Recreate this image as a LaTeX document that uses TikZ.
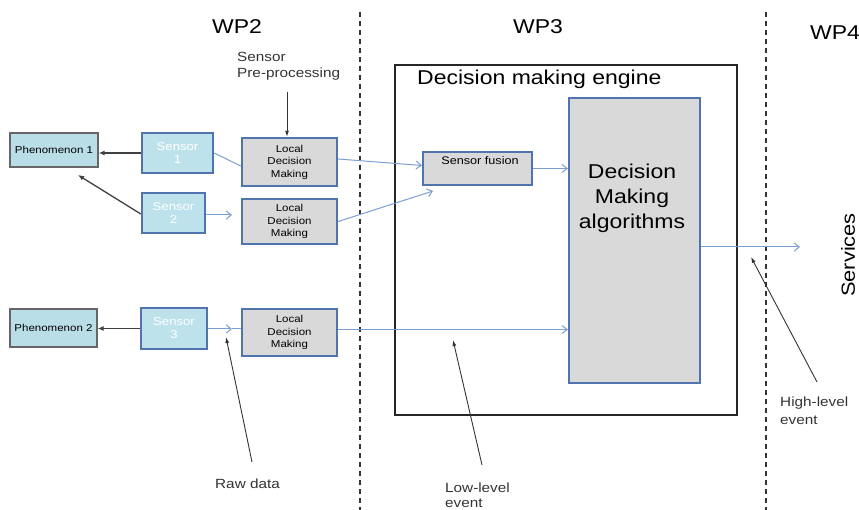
\documentclass[tikz,border=0pt]{standalone}
\usepackage{fontspec}
\setmainfont{Liberation Sans}[FakeStretch=1.15]
\usetikzlibrary{arrows.meta,calc}
\definecolor{bbord}{HTML}{4F74AE}
\definecolor{bline}{HTML}{7C9FD3}
\definecolor{cyanf}{HTML}{B9DEE8}
\definecolor{sensf}{HTML}{BEE2EC}
\definecolor{grayf}{HTML}{D9D9D9}
\definecolor{txt}{HTML}{333333}
\tikzset{
  phen/.style={draw=black!60, line width=1.3pt, fill=cyanf, inner sep=0pt, align=center, font=\fontsize{10}{12}\selectfont},
  sens/.style={draw=bbord, line width=2.4pt, fill=sensf, inner sep=1pt, align=center, text=white, font=\fontsize{11.4}{13}\selectfont},
  ldm/.style={draw=bbord, line width=2.4pt, fill=grayf, inner sep=1pt, align=center, font=\fontsize{10}{12.5}\selectfont},
  blarrow/.style={draw=bline, line width=1pt, -{Straight Barb[length=5pt,width=8pt]}},
  blline/.style={draw=bline, line width=1pt},
  blkarrow/.style={draw=black!75, line width=1.3pt, -{Latex[length=6pt,width=5pt]}},
  annot/.style={draw=black!80, line width=0.9pt, -{Latex[length=6pt,width=4pt]}},
  lbl/.style={text=txt, align=left, font=\fontsize{13.3}{15.5}\selectfont, inner sep=0pt},
  wp/.style={font=\fontsize{20}{22}\selectfont, inner sep=0pt},
  divider/.style={line width=1.8pt, black!80, dash pattern=on 5pt off 4pt},
}
\begin{document}
\begin{tikzpicture}[x=1pt,y=-1pt]
\useasboundingbox (0,0) rectangle (859,510);
% WP labels
\node[wp] (wp2) at (237,27) {WP2};
\node[wp] (wp3) at (538,27) {WP3};
\node[wp] (wp4) at (835,33) {WP4};
% dividers
\coordinate (d1t) at (360,12); \coordinate (d1b) at (360,510);
\coordinate (d2t) at (766,12); \coordinate (d2b) at (766,510);
\draw[divider] (d1t) -- (d1b);
\draw[divider] (d2t) -- (d2b);
% engine box
\node[draw=black!85, line width=1.4pt, minimum width=342pt, minimum height=350pt, inner sep=0pt] (dme) at (566,240) {};
\node[font=\fontsize{20}{22}\selectfont, inner sep=0pt, anchor=base west] (dmetitle) at (417,85) {Decision making engine};
\node[draw=bbord, line width=2.2pt, fill=grayf, minimum width=131pt, minimum height=285pt, inner sep=0pt] (dma) at (634.5,240.5) {};
\node[align=center, font=\fontsize{20}{25}\selectfont, inner sep=0pt] (dmatext) at (632,198) {Decision\\ Making\\algorithms};
\node[draw=bbord, line width=2.2pt, fill=grayf, minimum width=109pt, minimum height=33pt, inner sep=0pt] (sf) at (477.5,168.5) {};
\node[font=\fontsize{11}{12}\selectfont, inner sep=0pt] (sftext) at (480,161) {Sensor fusion};
% left nodes
\node[phen, minimum width=88pt, minimum height=34pt] (ph1) at (54,150) {Phenomenon 1};
\node[phen, minimum width=87pt, minimum height=38pt] (ph2) at (53.5,328) {Phenomenon 2};
\node[sens, minimum width=71pt, minimum height=40pt] (s1) at (177.5,153) {Sensor\\1};
\node[sens, minimum width=63pt, minimum height=40pt] (s2) at (173.5,213) {Sensor\\2};
\node[sens, minimum width=66pt, minimum height=41pt] (s3) at (174,328.5) {Sensor\\3};
\node[ldm, minimum width=95pt, minimum height=48pt] (l1) at (289.5,162) {Local\\Decision\\Making};
\node[ldm, minimum width=95pt, minimum height=45pt] (l2) at (289.5,221.5) {Local\\Decision\\Making};
\node[ldm, minimum width=95pt, minimum height=47pt] (l3) at (289.5,332.5) {Local\\Decision\\Making};
% sensor to phenomenon
\draw[blkarrow] (s1.west) -- (s1.west -| ph1.east);
\coordinate (ph1in) at (78,175);
\draw[blkarrow] ([yshift=-1pt]s2.west) -- (ph1in);
\draw[blkarrow] (s3.west) -- (s3.west -| ph2.east);
% sensor to LDM
\draw[blline] (s1.east) -- ([yshift=-4pt]l1.west);
\coordinate (a2) at (232,215);
\draw[blarrow] ([yshift=-2pt]s2.east) -- (a2);
\coordinate (a3) at (232,329);
\draw[blarrow] ([yshift=-0.5pt]s3.east) -- (a3);
\draw[blline] (a3) -- ([yshift=3.5pt]l3.west);
% LDM to engine
\draw[blarrow] ([yshift=3pt]l1.east) -- ([yshift=3pt]sf.west);
\coordinate (sfin) at (433,191);
\draw[blarrow] (l2.east) -- (sfin);
\draw[blarrow] (sf.east) -- (sf.east -| dma.west);
\draw[blarrow] ([yshift=3pt]l3.east) -- ([yshift=3pt]l3.east -| dma.west);
\coordinate (svc) at (800,247);
\draw[blarrow] ([yshift=-6.5pt]dma.east) -- (svc);
\node[rotate=90, font=\fontsize{19}{22}\selectfont, inner sep=0pt] (services) at (848,255) {Services};
% annotations
\node[lbl, anchor=west] (spp) at (237,66) {Sensor\\Pre-processing};
\draw[annot] (287,92) coordinate (sppa) -- (l1.north -| sppa);
\node[lbl, anchor=west] (raw) at (215,484) {Raw data};
\coordinate (rawtip) at (226,337);
\draw[annot] (252,462) coordinate (rawa) -- (rawtip);
\node[lbl, anchor=west] (low) at (445,495) {Low-level\\event};
\coordinate (lowtip) at (453,340);
\draw[annot] (482,465) coordinate (lowa) -- (lowtip);
\node[lbl, anchor=west, font=\fontsize{13.3}{18}\selectfont] (high) at (780,411) {High-level\\event};
\coordinate (hightip) at (751,257);
\draw[annot] (817,382) coordinate (higha) -- (hightip);
\end{tikzpicture}
\end{document}
